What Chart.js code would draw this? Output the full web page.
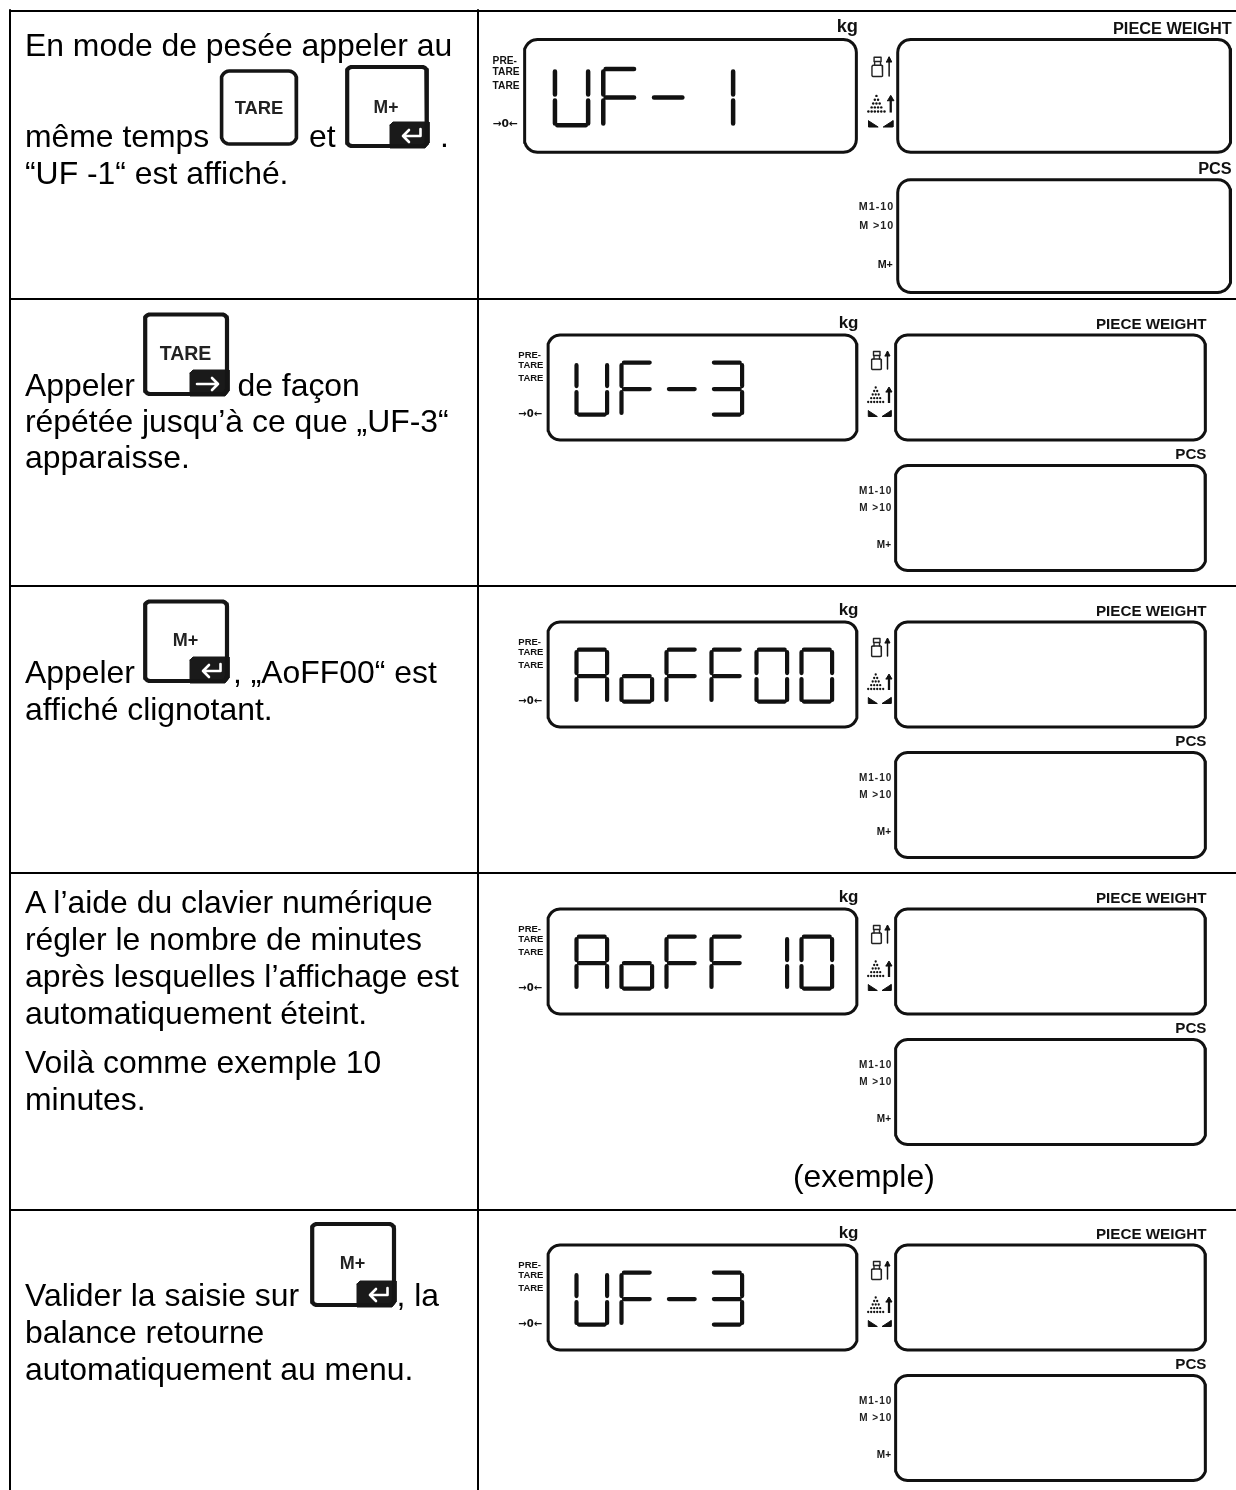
<!DOCTYPE html>
<html lang="fr">
<head>
<meta charset="utf-8">
<title>UF-3 extinction automatique</title>
<script src="https://cdn.jsdelivr.net/npm/chart.js@4"></script>
<style>
  html, body { margin: 0; background: #fff; }
  #page { position: relative; width: 1236px; height: 1490px; overflow: hidden; }
  #sheet { position: absolute; left: 0; top: 0; }
  #texts span {
    position: absolute; white-space: pre; color: #000;
    font-family: "Liberation Sans", Arial, sans-serif; line-height: 1.117;
  }
</style>
</head>
<body>
<div id="page">
  <canvas id="sheet" width="1236" height="1490"></canvas>
  <div id="texts"></div>
</div>
<script>
// readouts on the seven-segment display, one per table row
const readouts = ["UF-1", "UF-3", "AoFF00", "AoFF10", "UF-3"];

// left column text, line by line
const instructionLines = [
  "En mode de pesée appeler au", "même temps", "et", ".", "“UF -1“ est affiché.",
  "Appeler", "de façon", "répétée jusqu’à ce que „UF-3“", "apparaisse.",
  "Appeler", ", „AoFF00“ est", "affiché clignotant.",
  "A l’aide du clavier numérique", "régler le nombre de minutes",
  "après lesquelles l’affichage est", "automatiquement éteint.",
  "Voilà comme exemple 10", "minutes.",
  "Valider la saisie sur", ", la", "balance retourne", "automatiquement au menu.",
];
const exampleCaption = "(exemple)";

const keyLabels = ["TARE", "M+", "TARE", "M+", "M+"];
const keyIcons = ["none", "enter", "arrow", "enter", "enter"];

// labels around the display panels
const panelLabels = ["kg", "PIECE WEIGHT", "PCS", "PRE-", "TARE", "TARE", "→0←", "M1-10", "M >10", "M+"];

// which segments light up for each character
const segmentsOf = {
  U: "bcdef", F: "aefg", "-": "g", 1: "bc", 3: "abcdg", A: "abcefg", o: "cdeg", 0: "abcdef",
};

// ---- layout (page pixels) ----
const proseAt = [
  [25, 56.7], [25, 147.7], [309, 147.7], [440, 147.7], [25, 185],
  [25, 396.7], [237.5, 396.7], [25, 432.8], [25, 469],
  [25, 683.7], [233, 683.7], [25, 720.5],
  [25, 914], [25, 951], [25, 988], [25, 1025], [25, 1074], [25, 1111],
  [25, 1306.7], [396.5, 1306.7], [25, 1343.5], [25, 1381],
];
const proseSize = 31.9;
const rowRules = [11, 299, 586, 873, 1210];
const displayFrames = [
  { x: 524.5, y: 39.5, s: 1.074 },
  { x: 548, y: 335, s: 1 },
  { x: 548, y: 622, s: 1 },
  { x: 548, y: 909, s: 1 },
  { x: 548, y: 1245, s: 1 },
];
const keyFrames = [
  { x: 221.5, y: 71, w: 75, h: 73, r: 8, line: 3.6, tx: 259, ty: 108, fs: 18.4 },
  { x: 347, y: 67, w: 80, h: 79, r: 5, line: 4.2, tx: 386, ty: 107, fs: 17.5 },
  { x: 145, y: 314.5, w: 82, h: 79.5, r: 5, line: 4.2, tx: 185.5, ty: 354, fs: 19.5 },
  { x: 145, y: 601.5, w: 82, h: 79.5, r: 5, line: 4.2, tx: 185.5, ty: 640, fs: 18 },
  { x: 312, y: 1224, w: 82, h: 81, r: 5, line: 4.2, tx: 352.5, ty: 1263, fs: 18 },
];
const kgPanel = { x: 0, y: 0, w: 309, h: 105 };
const weightPanel = { x: 347.5, y: 0, w: 310, h: 105 };
const pcsPanel = { x: 347.5, y: 130.5, w: 310, h: 105 };
const digitBox = { x: 26.3, y: 25.6, w: 35, h: 56, pitch: 45 };
// label anchors: x, cap centre y, size, alignment
const labelAt = [
  [310.5, -13, 17, "r"], [658.5, -10.5, 15.2, "r"], [658.5, 119.7, 15.2, "r"],
  [-29.7, 20, 9.5, "l"], [-29.7, 29.7, 9.5, "l"], [-29.7, 43, 9.5, "l"], [-29.7, 78.7, 10, "l"],
  [344.3, 155.3, 10, "r"], [344.3, 172.7, 10, "r"], [343, 209, 10, "r"],
];

// ---- point helpers ----
const gap = { x: 0, y: null };

function roundedBox(x, y, w, h, r) {
  const corners = [
    [x + w - r, y + r, -90], [x + w - r, y + h - r, 0], [x + r, y + h - r, 90], [x + r, y + r, 180],
  ];
  const pts = [];
  corners.forEach(([cx, cy, start]) => {
    for (let i = 0; i <= 6; i++) {
      const a = (start + i * 15) * Math.PI / 180;
      pts.push({ x: cx + r * Math.cos(a), y: cy + r * Math.sin(a) });
    }
  });
  pts.push(pts[0]);
  return pts;
}

function digitSegments(ch, x, y, w, h) {
  const m = y + h / 2 + 0.5;
  const l = x + 2.2, r = x + w - 2.2, bl = x + 4.6, br = x + w - 4.6;
  const all = {
    a: [[bl, y + 2], [br, y + 2]],
    b: [[r, y + 4.6], [r, m - 3]],
    c: [[r, m + 3], [r, y + h - 3.6]],
    d: [[bl, y + h - 2], [br, y + h - 2]],
    e: [[l, m + 3], [l, y + h - 3.6]],
    f: [[l, y + 4.6], [l, m - 3]],
    g: [[bl, m], [br, m]],
  };
  const pts = [];
  segmentsOf[ch].split("").forEach((seg) => {
    all[seg].forEach(([px, py]) => pts.push({ x: px, y: py }));
    pts.push(gap);
  });
  return pts;
}

function line(data, width, color, extra) {
  return Object.assign({
    data, showLine: true, borderColor: color, borderWidth: width, pointRadius: 0,
    borderCapStyle: "round", borderJoinStyle: "round", tension: 0, fill: false, spanGaps: false, order: 2,
  }, extra || {});
}

function solid(points, color, order) {
  return line(points, 1, color, { fill: "shape", backgroundColor: color, order: order === undefined ? 2 : order });
}

// ---- datasets ----
const datasets = [];

// table rules
rowRules.forEach((y) => datasets.push(line([{ x: 9, y }, { x: 1236, y }], 2, "#000", { borderCapStyle: "butt" })));
datasets.push(line([{ x: 10, y: 10 }, { x: 10, y: 1490 }], 2, "#000", { borderCapStyle: "butt" }));
datasets.push(line([{ x: 478, y: 10 }, { x: 478, y: 1490 }], 2, "#000", { borderCapStyle: "butt" }));

// displays
displayFrames.forEach((f, row) => {
  const X = (v) => f.x + v * f.s;
  const Y = (v) => f.y + v * f.s;
  const P = (pts) => pts.map(([a, b]) => ({ x: X(a), y: Y(b) }));
  [kgPanel, weightPanel, pcsPanel].forEach((p) => {
    datasets.push(line(roundedBox(X(p.x), Y(p.y), p.w * f.s, p.h * f.s, 12 * f.s), 3, "#111"));
  });

  let digits = [];
  readouts[row].split("").forEach((ch, i) => {
    digits = digits.concat(digitSegments(ch, X(digitBox.x + i * digitBox.pitch), Y(digitBox.y), digitBox.w * f.s, digitBox.h * f.s));
  });
  datasets.push(line(digits, 4.2 * f.s, "#111"));

  // weight symbol and arrow
  datasets.push(line(roundedBox(X(323.5), Y(24), 10 * f.s, 10.5 * f.s, 1.5), 1.4, "#222"));
  datasets.push(line(P([[326, 24], [326, 20.5], [331.5, 20.5], [331.5, 24]]), 1.4, "#222"));
  datasets.push(line(P([[325.5, 20.5], [325.5, 16.5], [332, 16.5], [332, 20.5]]), 1.4, "#222"));
  datasets.push(line(P([[339.5, 34], [339.5, 17]]), 1.5, "#111"));
  datasets.push(solid(P([[337, 21], [339.5, 16], [342, 21], [337, 21]]), "#111"));

  // pile of pieces and arrow
  const pile = [[327.7, 52.5], [326.2, 56], [329.2, 56], [324.7, 59.5], [327.7, 59.5], [330.7, 59.5],
    [323.2, 63.2], [326.2, 63.2], [329.2, 63.2], [332.2, 63.2], [320.2, 67], [323.2, 67], [326.2, 67], [329.2, 67], [332.2, 67], [335.2, 67]];
  datasets.push({ data: P(pile), showLine: false, pointRadius: 1.15 * f.s, pointBorderWidth: 0, backgroundColor: "#111", pointStyle: "circle", order: 2 });
  datasets.push(line(P([[341, 68], [341, 54]]), 2.3, "#111", { borderCapStyle: "butt" }));
  datasets.push(solid(P([[338, 57], [341, 52], [344, 57], [338, 57]]), "#111"));

  // stability marks
  datasets.push(solid(P([[320.3, 75.7], [329.3, 81.5], [320.3, 81.5], [320.3, 75.7]]), "#111"));
  datasets.push(solid(P([[343, 75.7], [343, 81.5], [334, 81.5], [343, 75.7]]), "#111"));
});

// keys
keyFrames.forEach((k, i) => {
  datasets.push(line(roundedBox(k.x, k.y, k.w, k.h, k.r), k.line, "#151515"));
  if (keyIcons[i] === "none") return;
  const R = k.x + k.w, B = k.y + k.h;
  const tab = [[-37, -21], [-34, -24], [2, -24], [2, -3], [-2, 2], [-37, 2], [-37, -21]];
  datasets.push(solid(tab.map(([a, b]) => ({ x: R + a, y: B + b })), "#1a1a1a", 3));
  const icon = keyIcons[i] === "enter"
    ? [[-6.5, -17], [-6.5, -10], [-24, -10], gap, [-18, -16], [-24, -10], [-18, -4]]
    : [[-30, -10], [-9, -10], gap, [-15, -16], [-9, -10], [-15, -4]];
  datasets.push(line(icon.map((q) => q === gap ? gap : { x: R + q[0], y: B + q[1] }), 2.6, "#fff", { order: 1 }));
});

new Chart(document.getElementById("sheet"), {
  type: "scatter",
  data: { datasets },
  options: {
    responsive: false,
    animation: false,
    events: [],
    layout: { padding: 0, autoPadding: false },
    plugins: { legend: { display: false }, tooltip: { enabled: false } },
    scales: {
      x: { type: "linear", min: 0, max: 1236, display: false },
      y: { type: "linear", min: 0, max: 1490, reverse: true, display: false },
    },
  },
});

// ---- text on top of the canvas ----
const texts = document.getElementById("texts");

function putText(str, x, baseline, size, weight, align, extra) {
  const el = document.createElement("span");
  el.textContent = str;
  el.style.left = x + "px";
  el.style.top = (baseline - 0.905 * size) + "px";
  el.style.fontSize = size + "px";
  el.style.fontWeight = weight;
  if (align === "r") el.style.transform = "translateX(-100%)";
  if (align === "c") el.style.transform = "translateX(-50%)";
  Object.assign(el.style, extra || {});
  texts.appendChild(el);
}

instructionLines.forEach((str, i) => putText(str, proseAt[i][0], proseAt[i][1], proseSize, "normal", "l"));
putText(exampleCaption, 793, 1188, proseSize, "normal", "l");

keyFrames.forEach((k, i) => {
  putText(keyLabels[i], k.tx, k.ty + 0.3645 * k.fs, k.fs, "bold", "c", { color: "#222" });
});

displayFrames.forEach((f) => {
  panelLabels.forEach((str, i) => {
    const [lx, ly, size, align] = labelAt[i];
    const fs = size * f.s;
    let extra = { color: "#111" };
    if (str.startsWith("M") && str !== "M+") extra = { letterSpacing: "1px", color: "#222" };
    if (str === "→0←") extra = { fontFamily: "'DejaVu Sans'", color: "#111" };
    putText(str, f.x + lx * f.s, f.y + ly * f.s + 0.3645 * fs, fs, "bold", align, extra);
  });
});
</script>
</body>
</html>
